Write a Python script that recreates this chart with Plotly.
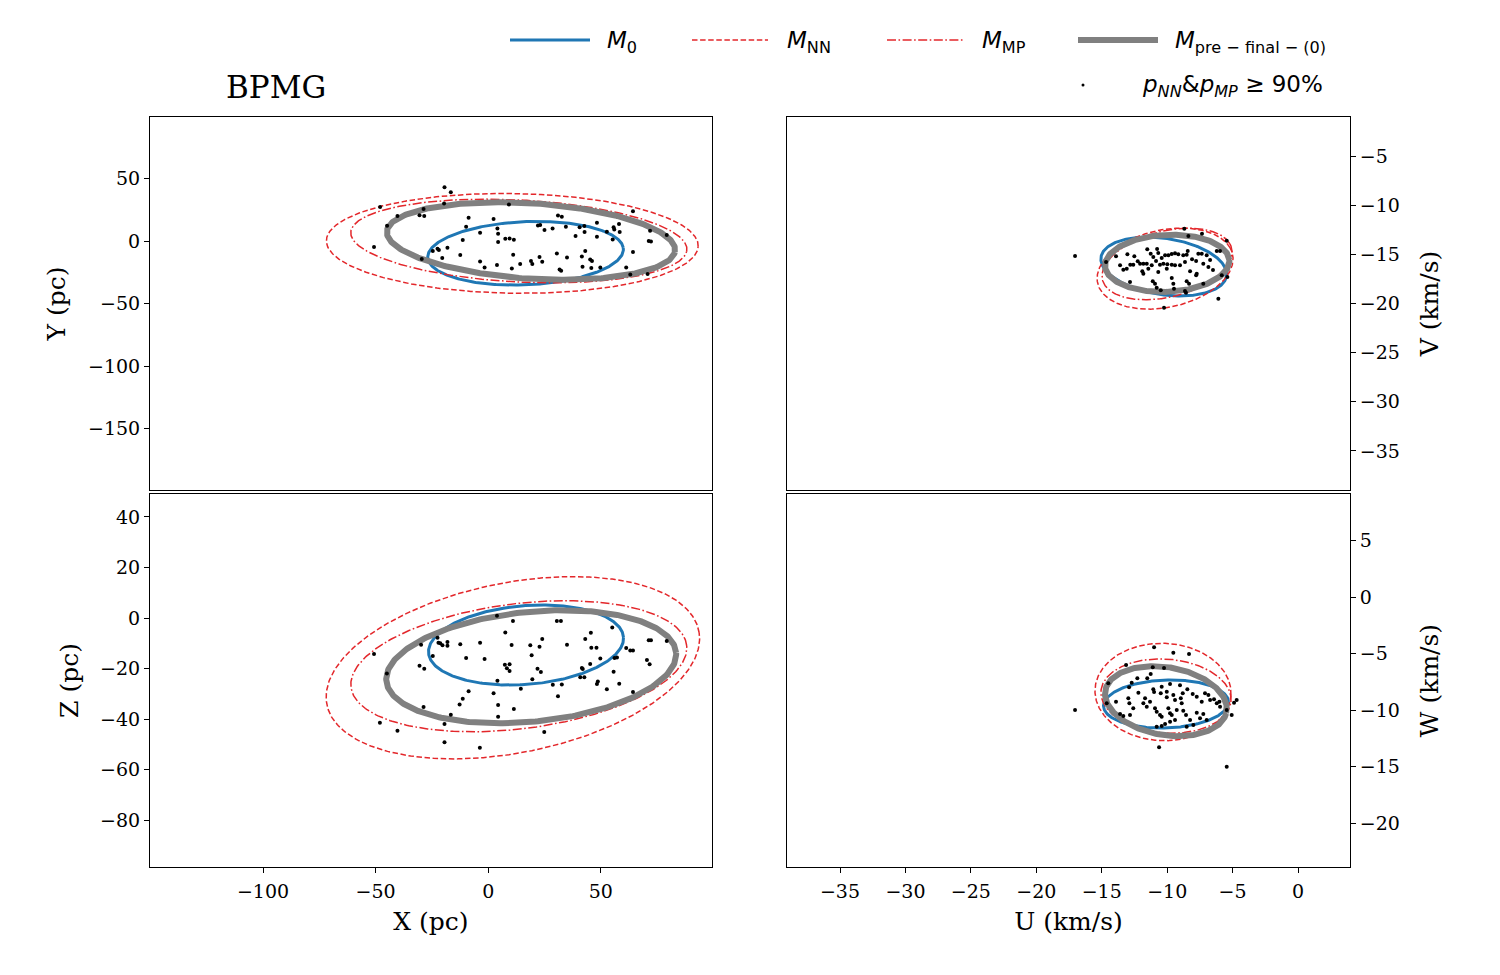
import numpy as np
import plotly.graph_objects as go

# ---------------- axis ranges & ticks ----------------
X_RANGE = [-150.2, 99.4]
Y_RANGE = [-199.2, 99.2]
Z_RANGE = [-98.6, 49.1]
U_RANGE = [-39.05, 3.97]
V_RANGE = [-38.97, -1.03]
W_RANGE = [-23.85, 9.1]

X_TICKS = [-100, -50, 0, 50]
Y_TICKS = [-150, -100, -50, 0, 50]
Z_TICKS = [-80, -60, -40, -20, 0, 20, 40]
U_TICKS = [-35, -30, -25, -20, -15, -10, -5, 0]
V_TICKS = [-35, -30, -25, -20, -15, -10, -5]
W_TICKS = [-20, -15, -10, -5, 0, 5]

# ---------------- ellipse models: (cx, cy, semi-major, semi-minor, angle deg) ----------------
MODELS = ["M0", "MNN", "MMP", "Mpre"]
ELL_XY = {"M0": (16.6, -9.8, 43.6, 25.2, 6.0),
          "MNN": (10.7, -1.9, 82.6, 39.9, -1.8),
          "MMP": (13.6, 0.0, 75.0, 32.7, -6.2),
          "Mpre": (19.0, 0.0, 64.5, 30.0, -8.0)}
ELL_XZ = {"M0": (16.8, -10.7, 43.4, 15.6, 4.0),
          "MNN": (10.95, -19.7, 83.9, 33.8, 9.5),
          "MMP": (13.6, -19.1, 75.0, 24.8, 6.2),
          "Mpre": (19.1, -19.3, 64.6, 21.8, 4.9)}
ELL_UV = {"M0": (-10.26, -16.24, 4.9, 2.84, -13.9),
          "MNN": (-10.16, -16.45, 5.4, 3.85, 23.0),
          "MMP": (-10.01, -15.98, 5.22, 3.27, 23.2),
          "Mpre": (-10.0, -15.91, 4.76, 2.9, 4.4)}
ELL_UW = {"M0": (-10.09, -9.45, 4.78, 2.12, 2.5),
          "MNN": (-10.32, -8.39, 5.2, 4.3, -3.3),
          "MMP": (-10.09, -8.75, 4.99, 3.26, -6.1),
          "Mpre": (-10.1, -9.2, 4.73, 2.98, -13.2)}

# ---------------- members (p_NN & p_MP >= 90%) ----------------
XY_X = [-19.4, -16.6, -48.0, -19.6, 9.2, -28.7, -40.3, -30.5, -28.4, 64.3, -8.7, 31.0, 32.7, 2.4,
        -44.9, -9.8, 4.1, 22.1, 23.1, 25.0, 28.6, 34.5, 40.6, 42.7, 42.8, 48.3, 55.7, 56.0, 58.1,
        58.4, 52.7, 71.9, 79.3, -3.6, 4.4, 38.8, 48.3, -11.3, 4.4, 7.6, 9.5, 11.4, 55.3, 71.3, 72.3,
        -50.7, -24.6, -22.5, -21.9, -18.1, -12.4, 11.1, 30.5, 43.1, 41.6, 35.0, 64.3, -29.5, -20.4,
        22.8, -3.6, 19.0, 19.6, 24.0, 14.2, 3.9, -1.6, 10.5, 45.3, 46.1, 41.9, 45.8, 49.8, 31.7,
        32.4, 61.3, 63.1, 70.8]
XY_Y = [43.0, 39.0, 27.2, 30.1, 29.3, 25.6, 20.0, 20.6, 20.0, 23.8, 18.7, 20.5, 19.5, 17.6,
        12.3, 11.5, 10.1, 12.5, 12.8, 8.8, 10.1, 11.5, 11.0, 12.0, 7.2, 14.7, 11.0, 9.3, 13.6,
        7.2, 7.5, 8.3, 4.8, 6.7, 5.9, 4.0, 3.5, 0.8, -0.8, 1.9, 2.1, 1.1, 1.3, 0.0, -0.3,
        -4.8, -8.0, -6.1, -7.2, -5.3, -11.2, -10.9, -9.9, -8.0, -12.3, -13.1, -8.8, -14.4, -13.6,
        -12.8, -16.3, -16.0, -18.4, -16.5, -18.4, -19.2, -21.1, -21.9, -14.7, -16.0, -20.5, -21.6,
        -21.1, -22.7, -23.7, -21.1, -26.7, -26.4]

XZ_X = [3.9, 11.0, 30.5, 32.3, 7.6, 45.6, 55.1, 43.1, 24.0, 71.3, 72.3, 79.3, -22.5, -29.8,
        -22.1, -21.3, -20.3, -18.1, -18.1, -12.4, -3.6, 10.4, 18.7, 22.8, 35.0, 45.8, 48.1, 61.3,
        63.1, 64.3, -50.7, -24.6, -9.8, -1.6, 19.3, 49.8, 56.1, 57.2, 70.5, 71.7, 7.4, 9.5, 8.3,
        9.5, 45.3, 41.6, 42.0, 21.9, 23.4, -30.5, -28.4, -45.0, 55.7, 40.9, 42.7, 4.1, 19.6, 28.7,
        32.7, 48.7, 48.3, 58.2, 14.5, 52.7, -8.7, 2.4, 31.0, 64.3, -11.3, -12.7, 4.4, 11.4, -28.7,
        -16.6, 4.4, -48.1, -19.4, -40.3, 24.9, -19.4, -3.7]
XZ_Z = [0.9, -1.2, -1.2, -1.2, -5.7, -5.8, -3.8, -8.3, -8.3, -8.8, -8.8, -9.1, -7.8, -10.6,
        -9.8, -10.0, -10.8, -9.5, -11.0, -10.4, -9.8, -10.7, -10.8, -11.4, -10.6, -11.8, -11.8, -11.9,
        -12.9, -12.9, -14.3, -15.0, -15.8, -16.2, -14.8, -16.0, -15.8, -15.6, -16.6, -18.3, -18.5,
        -18.3, -19.9, -21.0, -18.2, -19.8, -20.2, -20.1, -21.4, -18.9, -20.1, -22.0, -21.3, -23.5,
        -23.5, -24.8, -24.3, -26.4, -26.3, -25.1, -26.1, -26.0, -28.0, -28.2, -29.0, -29.8, -31.0,
        -29.3, -32.0, -34.3, -34.5, -36.0, -35.2, -38.3, -39.1, -41.5, -42.0, -44.6, -45.1, -49.2,
        -51.4]

UV_U = [-8.69, -8.38, -7.34, -5.45, -6.21, -5.96, -14.67, -13.91, -11.52, -13.04, -12.51, -12.25,
        -12.07, -12.82, -12.59, -13.60, -13.35, -13.09, -11.82, -11.56, -11.26, -11.06, -10.68,
        -10.42, -10.16, -9.91, -9.65, -9.40, -9.15, -8.77, -8.43, -8.51, -10.85, -10.55, -10.29,
        -9.99, -9.65, -9.40, -11.18, -11.44, -11.90, -11.82, -10.68, -10.03, -9.02, -8.64, -8.25,
        -7.74, -6.85, -7.24, -7.62, -7.36, -6.98, -7.79, -6.72, -11.10, -10.93, -10.80, -12.84,
        -9.65, -9.53, -9.48, -10.49, -8.51, -8.33, -7.24, -8.64, -8.56, -7.79, -5.83, -5.40, -6.09,
        -10.24, -17.04, -10.77, -8.10, -6.50]
UV_V = [-12.39, -13.14, -12.90, -13.61, -14.66, -14.66, -15.78, -15.20, -14.49, -15.00, -15.20,
        -15.71, -15.95, -16.05, -16.05, -16.12, -16.56, -16.46, -15.95, -15.95, -14.94, -15.27,
        -14.86, -15.37, -15.10, -15.10, -14.97, -14.90, -15.00, -15.10, -14.66, -15.04, -15.68,
        -16.05, -15.95, -16.01, -16.05, -16.12, -16.12, -16.46, -16.73, -16.97, -16.80, -16.46,
        -16.12, -15.78, -16.73, -16.97, -16.29, -15.95, -14.94, -14.94, -15.10, -15.68, -15.58,
        -17.74, -17.99, -18.39, -17.81, -17.41, -17.99, -18.50, -18.66, -17.74, -17.99, -17.99,
        -18.73, -18.90, -17.13, -17.13, -17.31, -19.51, -20.43, -15.17, -14.46, -15.50, -16.60]

UW_U = [-11.0, -9.53, -8.33, -13.14, -11.1, -10.24, -11.26, -14.5, -12.71, -12.28, -11.52, -12.2,
        -12.91, -10.42, -9.78, -9.02, -8.46, -8.81, -8.05, -11.06, -11.0, -10.49, -10.03, -10.03,
        -9.53, -9.40, -8.96, -8.89, -7.74, -7.36, -6.85, -6.72, -7.11, -6.42, -6.21, -6.01, -4.89,
        -4.69, -5.45, -5.96, -11.69, -11.82, -11.56, -11.31, -12.97, -12.89, -12.59, -13.91, -14.62,
        -13.6, -13.35, -12.84, -10.93, -10.8, -10.55, -10.42, -9.91, -9.78, -9.65, -9.27, -8.77,
        -8.56, -8.25, -8.0, -8.51, -7.74, -7.24, -6.98, -7.49, -5.07, -10.8, -10.42, -10.16, -9.78,
        -9.40, -10.62, -5.45, -17.04]
UW_W = [-4.44, -4.92, -5.04, -6.01, -6.21, -6.27, -6.80, -7.62, -7.57, -7.18, -7.18, -8.45,
        -7.98, -7.92, -7.69, -7.80, -8.15, -8.51, -8.57, -8.15, -8.39, -8.51, -8.37, -8.86,
        -8.66, -9.10, -8.95, -9.39, -8.81, -9.25, -8.66, -9.10, -8.51, -9.04, -9.39, -9.25, -9.34,
        -9.10, -9.98, -9.69, -8.95, -9.39, -9.69, -9.25, -8.95, -9.39, -9.83, -9.25, -9.39,
        -10.34, -10.51, -10.42, -9.83, -10.13, -10.42, -10.57, -9.83, -10.27, -10.42, -9.98, -10.04,
        -10.42, -10.87, -11.31, -11.46, -10.22, -10.34, -10.87, -10.72, -10.42, -11.46, -11.40,
        -11.22, -11.02, -10.87, -13.28, -14.99, -9.98]

# ---------------- styles ----------------
BLUE = "#1f77b4"
RED = "#e3272b"
GRAY = "#808080"
STYLE = {"M0": dict(color=BLUE, width=3),
         "MNN": dict(color=RED, width=1.5, dash="5.5px,2.6px"),
         "MMP": dict(color=RED, width=1.5, dash="9px,2.5px,1.6px,2.5px"),
         "Mpre": dict(color=GRAY, width=6)}
SERIF = "DejaVu Serif"
SANS = "DejaVu Sans"


def ellipse(cx, cy, a, b, ang):
    t = np.linspace(0, 2 * np.pi, 361)
    th = np.deg2rad(ang)
    x = cx + a * np.cos(th) * np.cos(t) - b * np.sin(th) * np.sin(t)
    y = cy + a * np.sin(th) * np.cos(t) + b * np.cos(th) * np.sin(t)
    return x, y


fig = go.Figure()
panels = [(ELL_XY, XY_X, XY_Y, "x", "y"),
          (ELL_XZ, XZ_X, XZ_Z, "x2", "y2"),
          (ELL_UV, UV_U, UV_V, "x3", "y3"),
          (ELL_UW, UW_U, UW_W, "x4", "y4")]
for ells, px, py, xa, ya in panels:
    for m in MODELS:
        ex, ey = ellipse(*ells[m])
        fig.add_trace(go.Scatter(x=ex, y=ey, mode="lines", line=STYLE[m], xaxis=xa, yaxis=ya,
                                 showlegend=False, hoverinfo="skip"))
    fig.add_trace(go.Scatter(x=px, y=py, mode="markers", marker=dict(color="black", size=4),
                             xaxis=xa, yaxis=ya, showlegend=False))

W, H = 1500, 975
LX = [150 / W, 712 / W]
RX = [787 / W, 1350 / W]
TY = [1 - 490 / H, 1 - 117 / H]
BY = [1 - 867 / H, 1 - 494 / H]

tickfont = dict(family=SERIF, size=19, color="black")
titlefont = dict(family=SERIF, size=25, color="black")
common = dict(showline=True, mirror=True, linecolor="black", linewidth=1, showgrid=False,
              zeroline=False, ticks="outside", ticklen=5, tickwidth=1, tickcolor="black",
              tickfont=tickfont)

fig.update_layout(
    width=W, height=H, margin=dict(l=0, r=0, t=0, b=0),
    paper_bgcolor="white", plot_bgcolor="white", showlegend=False,
    xaxis=dict(common, domain=LX, range=X_RANGE, anchor="y", showticklabels=False, ticks=""),
    yaxis=dict(common, domain=TY, range=Y_RANGE, anchor="x", tickvals=Y_TICKS,
               title=dict(text="Y (pc)", font=titlefont, standoff=15)),
    xaxis2=dict(common, domain=LX, range=X_RANGE, anchor="y2", tickvals=X_TICKS,
                ticklabelstandoff=2,
                title=dict(text="X (pc)", font=titlefont, standoff=11)),
    yaxis2=dict(common, domain=BY, range=Z_RANGE, anchor="x2", tickvals=Z_TICKS,
                title=dict(text="Z (pc)", font=titlefont, standoff=14)),
    xaxis3=dict(common, domain=RX, range=U_RANGE, anchor="y3", showticklabels=False, ticks=""),
    yaxis3=dict(common, domain=TY, range=V_RANGE, anchor="x3", side="right", tickvals=V_TICKS,
                title=dict(text="V (km/s)", font=titlefont, standoff=21)),
    xaxis4=dict(common, domain=RX, range=U_RANGE, anchor="y4", tickvals=U_TICKS,
                ticklabelstandoff=2,
                title=dict(text="U (km/s)", font=titlefont, standoff=11)),
    yaxis4=dict(common, domain=BY, range=W_RANGE, anchor="x4", side="right", tickvals=W_TICKS,
                title=dict(text="W (km/s)", font=titlefont, standoff=21)),
)

# title
fig.add_annotation(text="BPMG", xref="paper", yref="paper", x=276 / W, y=1 - 87 / H,
                   showarrow=False, xanchor="center", yanchor="middle",
                   font=dict(family=SERIF, size=31, color="black"))

# manual legend
leg_font = dict(family=SANS, size=23, color="black")
row1 = 1 - 40 / H
legend_items = [("M0", 510, 590, 605, "<i>M</i><sub>0</sub>"),
                ("MNN", 692, 768, 785, "<i>M</i><sub>NN</sub>"),
                ("MMP", 887, 963, 980, "<i>M</i><sub>MP</sub>"),
                ("Mpre", 1078, 1158, 1173, "<i>M</i><sub>pre − final − (0)</sub>")]
for m, x0, x1, xt, label in legend_items:
    fig.add_shape(type="line", xref="paper", yref="paper", x0=x0 / W, x1=x1 / W, y0=row1, y1=row1,
                  line=STYLE[m])
    fig.add_annotation(text=label, xref="paper", yref="paper", x=xt / W, y=row1 - 2 / H,
                       showarrow=False, xanchor="left", yanchor="middle", font=leg_font)
row2 = 1 - 85 / H
fig.add_shape(type="circle", xref="paper", yref="paper", x0=1081.5 / W, x1=1084.5 / W,
              y0=row2 - 1.5 / H, y1=row2 + 1.5 / H, fillcolor="black", line=dict(width=0))
fig.add_annotation(text="<i>p</i><sub><i>NN</i></sub>&amp;<i>p</i><sub><i>MP</i></sub> ≥ 90%",
                   xref="paper", yref="paper", x=1140 / W, y=row2 - 1 / H, showarrow=False,
                   xanchor="left", yanchor="middle", font=leg_font)

fig.write_html("out.html")
